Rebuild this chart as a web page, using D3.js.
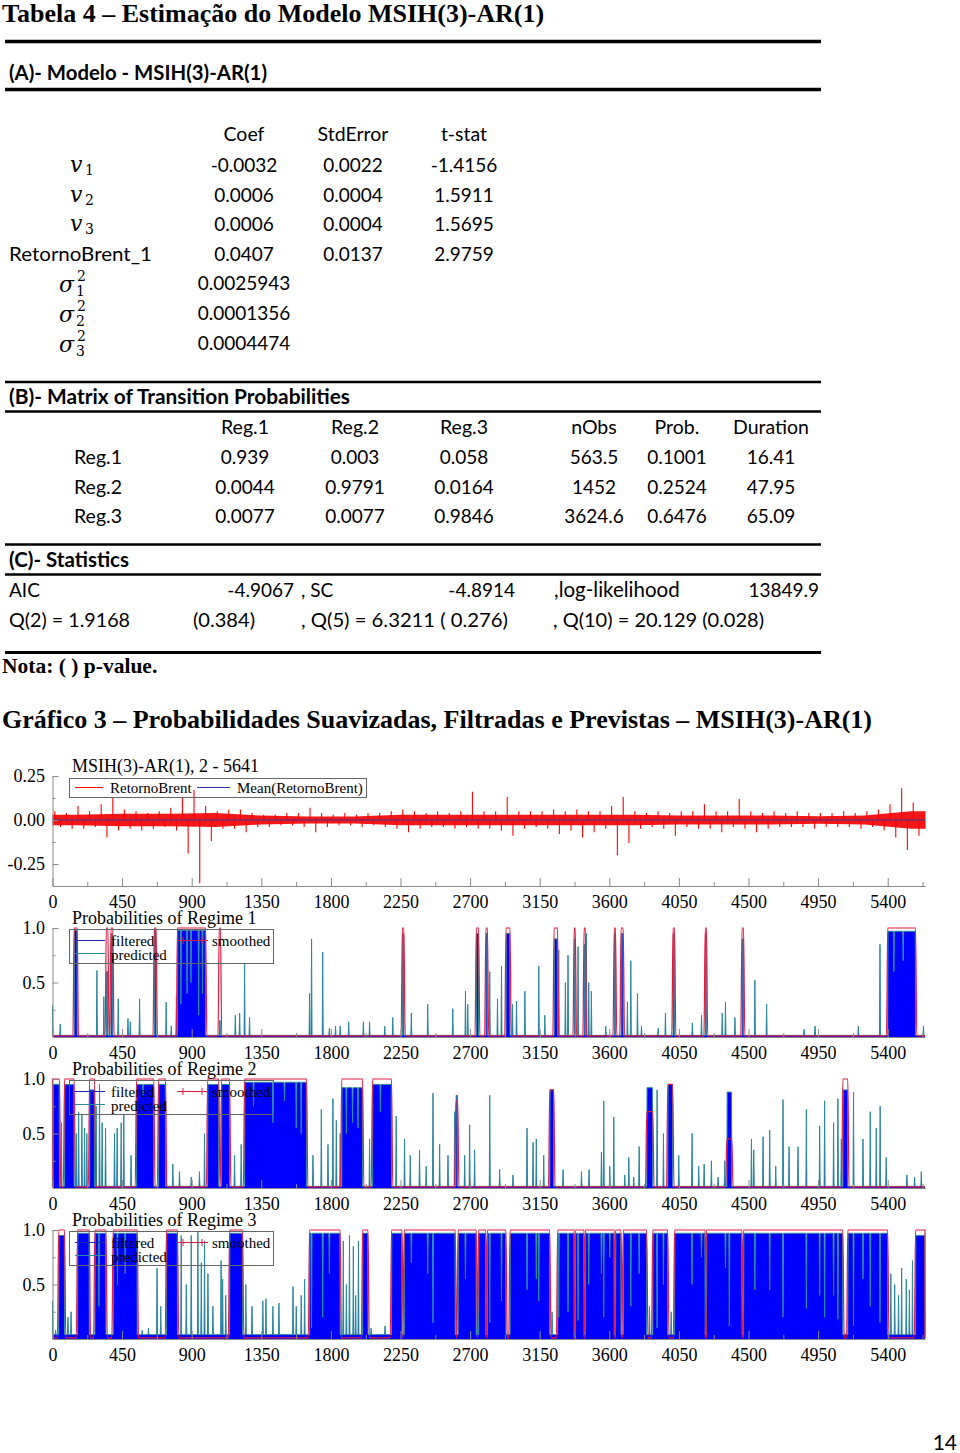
<!DOCTYPE html>
<html><head><meta charset="utf-8">
<script src="https://d3js.org/d3.v7.min.js"></script>
<style>html,body{margin:0;padding:0;background:#fff}svg{display:block}</style>
</head><body>
<svg id="page" width="960" height="1453"></svg>
<script>
// ---------------- Table data ----------------
const tableTitle = "Tabela 4 – Estimação do Modelo MSIH(3)-AR(1)";
const sectionA = "(A)- Modelo - MSIH(3)-AR(1)";
const coefHeaders = ["Coef", "StdError", "t-stat"];
const paramLabels = ["v1", "v2", "v3", "RetornoBrent_1", "σ1²", "σ2²", "σ3²"];
const coefValues = ["-0.0032", "0.0006", "0.0006", "0.0407", "0.0025943", "0.0001356", "0.0004474"];
const stdErrValues = ["0.0022", "0.0004", "0.0004", "0.0137"];
const tStatValues = ["-1.4156", "1.5911", "1.5695", "2.9759"];
const sectionB = "(B)- Matrix of Transition Probabilities";
const transHeaders = ["Reg.1", "Reg.2", "Reg.3", "nObs", "Prob.", "Duration"];
const regimeNames = ["Reg.1", "Reg.2", "Reg.3"];
const transValues = [
  ["0.939", "0.003", "0.058", "563.5", "0.1001", "16.41"],
  ["0.0044", "0.9791", "0.0164", "1452", "0.2524", "47.95"],
  ["0.0077", "0.0077", "0.9846", "3624.6", "0.6476", "65.09"]
];
const sectionC = "(C)- Statistics";
const statsLine1 = ["AIC", "-4.9067", ", SC", "-4.8914", ",log-likelihood", "13849.9"];
const statsLine2 = ["Q(2) = 1.9168", "(0.384)", ", Q(5) = 6.3211 ( 0.276)", ", Q(10) = 20.129 (0.028)"];
const noteText = "Nota: ( ) p-value.";
const graphTitle = "Gráfico 3 – Probabilidades Suavizadas, Filtradas e Previstas – MSIH(3)-AR(1)";
const pageNumber = "14";

// ---------------- Chart data ----------------
const nObs = 5641;
const xTicks = [0, 450, 900, 1350, 1800, 2250, 2700, 3150, 3600, 4050, 4500, 4950, 5400];
const xMinorTicks = [225, 675, 1125, 1575, 2025, 2475, 2925, 3375, 3825, 4275, 4725, 5175, 5625];
const retTicks = [-0.25, 0, 0.25];
const retTickLabels = ["-0.25", "0.00", "0.25"];
const retMinorTicks = [-0.125, 0.125];
const probTicks = [0.5, 1.0];
const probTickLabels = ["0.5", "1.0"];
const probMinorTicks = [0.25, 0.75];
const retTitle = "MSIH(3)-AR(1), 2 - 5641";
const retLegend = ["RetornoBrent", "Mean(RetornoBrent)"];
const probLegend = ["filtered", "smoothed", "predicted"];
const probTitles = ["Probabilities of Regime 1", "Probabilities of Regime 2", "Probabilities of Regime 3"];

// Return series: read per 75-observation bin (max and min of RetornoBrent)
const retBinWidth = 75;
const retHigh = [.05,.04,.08,.05,.09,.13,.06,.05,.04,.05, .07,.13,.17,.08,.05,.06,.06,.04,.03,.03,
  .04,.04,.07,.04,.03,.04,.03,.04,.04,.05, .06,.05,.04,.05,.04,.05,.16,.05,.05,.13,
  .05,.05,.05,.06,.05,.06,.05,.05,.08,.13, .05,.04,.05,.04,.05,.05,.09,.05,.05,.12,
  .05,.04,.05,.04,.05,.04,.04,.04,.05,.04, .05,.06,.09,.18,.10,.05];
const retLow = [-.04,-.05,-.05,-.04,-.10,-.06,-.05,-.06,-.05,-.04, -.06,-.19,-.36,-.12,-.05,-.05,-.07,-.04,-.04,-.03,
  -.03,-.04,-.07,-.04,-.03,-.03,-.04,-.03,-.04,-.05, -.07,-.05,-.04,-.04,-.05,-.04,-.05,-.05,-.06,-.09,
  -.05,-.04,-.05,-.08,-.06,-.10,-.07,-.05,-.20,-.13, -.05,-.04,-.05,-.09,-.04,-.05,-.05,-.07,-.04,-.05,
  -.07,-.05,-.04,-.04,-.04,-.05,-.04,-.04,-.04,-.05, -.04,-.06,-.10,-.17,-.09,-.05];
// typical (dense) amplitude per 300-observation segment
const retCoreWidth = 300;
const retCore = [.03,.035,.035,.04,.025,.02,.02,.03,.03,.03,.03,.03,.03,.025,.025,.025,.022,.025,.05];
const retMean = 0.0003;

// Regime probabilities. Blocks: [start, end, filtered level, smoothed level]
// Dips inside blocks: [t, filtered value]; spikes outside blocks: [t, filtered value]
const reg1Blocks = [[140,160,.98,1],[348,358,.6,1],[378,390,.95,1],[658,670,.98,1],[808,990,.98,1],[1078,1086,.15,1],
  [2262,2272,.95,1],[2740,2755,.95,1],[2802,2812,.95,1],[2932,2958,.95,1],[3243,3265,.9,1],[3373,3380,.9,1],
  [3437,3445,.85,1],[3632,3640,.95,1],[3676,3690,.95,1],[4012,4022,.95,1],[4220,4228,.95,1],[4458,4468,.9,1],[5400,5580,.97,1]];
const reg1Dips = [[830,.3],[870,.4],[895,.5],[945,.2],[970,.4],[5440,.6],[5500,.7]];
const reg1Spikes = [[0,.29],[50,.12],[287,.61],[332,.37],[425,.35],[488,.17],[503,.14],[563,.35],[735,.32],[768,.1],[801,.38],
  [1182,.2],[1210,.22],[1242,.68],[1274,.18],[1662,.4],[1675,.9],[1747,.78],[1790,.08],[1830,.1],[1860,.1],[1915,.14],
  [2010,.14],[2050,.14],[2148,.1],[2200,.18],[2320,.22],[2426,.3],[2588,.26],[2670,.42],[2685,.3],
  [2827,.6],[2877,.35],[2903,.65],[2974,.3],[3000,.33],[3054,.42],[3144,.65],[3183,.2],[3273,.8],[3316,.5],[3333,.75],
  [3398,.83],[3452,.95],[3467,.5],[3484,.42],[3577,.1],[3717,.32],[3739,.7],[3782,.4],[3808,.1],[3916,.08],[3963,.22],
  [4137,.13],[4196,.2],[4330,.22],[4351,.32],[4412,.18],[4541,.52],[4617,.3],[4859,.07],[4930,.1],[5210,.1],[5350,.85],[5631,.1]];

const reg2Blocks = [[0,45,.95,1],[78,140,.95,1],[240,272,.9,1],[543,655,.95,1],[686,731,.95,1],[1003,1075,.95,1],
  [1093,1145,.95,1],[1242,1643,.97,1],[1870,2005,.92,1],[2069,2192,.95,1],[2608,2620,.85,.8],[3215,3241,.9,.9],
  [3842,3881,.92,.7],[3978,4010,.95,.95],[4360,4392,.88,.45],[5110,5142,.9,1]];
const reg2Dips = [[585,.85],[1300,.75],[1425,.6],[1500,.8],[1576,.55],[1608,.5],[1900,.5],[1940,.6],[1975,.55],[2120,.7]];
const reg2Spikes = [[58,.6],[154,.5],[169,.7],[190,.68],[207,.55],[222,.5],[282,.75],[304,.95],[321,.6],[343,.55],
  [401,.5],[418,.55],[444,.6],[461,.68],[508,.3],[735,.2],[778,.22],[821,.15],[897,.1],[950,.15],[983,.5],
  [1177,.3],[1220,.4],[1684,.3],[1738,.72],[1781,.4],[1813,.82],[1835,.62],[1860,.5],[2050,.45],[2222,.66],
  [2276,.45],[2313,.3],[2373,.35],[2416,.2],[2460,.87],[2503,.4],[2557,.3],[2600,.7],[2665,.3],[2697,.58],[2729,.35],
  [2827,.85],[2891,.17],[2977,.12],[3068,.55],[3107,.42],[3128,.45],[3176,.3],[3301,.17],[3420,.15],[3469,.17],
  [3549,.33],[3564,.8],[3603,.2],[3629,.65],[3700,.12],[3726,.28],[3758,.1],[3793,.38],[3909,.9],[3950,.5],
  [4049,.3],[4135,.5],[4178,.2],[4213,.22],[4260,.25],[4303,.1],[4346,.25],[4519,.45],[4534,.35],[4594,.47],
  [4637,.53],[4676,.2],[4723,.81],[4762,.38],[4820,.38],[4874,.72],[4960,.57],[4992,.8],[5050,.6],[5078,.82],
  [5100,.45],[5179,.88],[5240,.45],[5287,.7],[5326,.55],[5351,.75],[5390,.28],[5524,.12],[5574,.1],[5617,.15]];

const reg3Blocks = [[40,78,.95,1],[162,238,.97,1],[274,346,.97,1],[392,548,.97,1],[737,808,.97,1],[1145,1229,.97,1],
  [1662,1860,.97,1],[2005,2040,.97,1],[2192,2260,.97,1],[2274,2604,.97,1],[2622,2740,.97,1],[2755,2802,.97,1],
  [2812,2932,.97,1],[2958,3215,.97,1],[3266,3373,.97,1],[3380,3437,.97,1],[3445,3632,.97,1],[3640,3676,.97,1],
  [3690,3842,.97,1],[3881,3978,.97,1],[4022,4220,.97,1],[4228,4458,.97,1],[4468,5110,.97,1],[5142,5400,.97,1],[5580,5641,.95,1]];
const reg3Dips = [[300,.3],[420,.5],[470,.6],[1675,.1],[1747,.2],[1790,.6],[2320,.7],[2426,.6],[2460,.15],[2670,.55],[2827,.15],
  [2903,.35],[3068,.45],[3128,.55],[3144,.35],[3273,.2],[3333,.25],[3398,.17],[3467,.5],[3549,.6],[3564,.2],[3603,.75],
  [3739,.3],[3793,.6],[3909,.1],[3950,.5],[4135,.5],[4196,.75],[4351,.65],[4376,.12],[4541,.45],[4637,.45],[4723,.2],
  [4874,.28],[4960,.4],[4992,.2],[5050,.4],[5078,.18],[5179,.12],[5240,.55],[5287,.3],[5350,.15]];
const reg3Spikes = [[0,.35],[20,.08],[100,.2],[120,.25],[580,.08],[620,.1],[676,.65],[700,.3],[832,.95],[865,.5],
  [897,.95],[940,.98],[962,.7],[983,.9],[1005,.6],[1037,.3],[1090,.72],[1100,.55],[1120,.4],[1250,.5],[1290,.3],
  [1360,.35],[1380,.37],[1425,.3],[1464,.33],[1555,.48],[1576,.3],[1608,.4],[1630,.55],[1880,.9],[1900,.5],
  [1920,.95],[1945,.85],[1960,.4],[1978,.9],[2060,.1],[2150,.12],[3230,.25],[3860,.3],[4000,.25],[5125,.05],
  [5420,.6],[5445,.5],[5470,.4],[5490,.65],[5520,.55],[5540,.45],[5560,.72]];
const regBase = [0.015, 0.015, 0.04];

// ---------------- Drawing ----------------
const serif = "'Liberation Serif','Times New Roman',serif";
const sans = "Lato,'Open Sans',sans-serif";
const svg = d3.select("#page");

function txt(x, y, s, opts = {}) {
  const t = svg.append("text").attr("x", x).attr("y", y)
    .attr("font-family", opts.family || sans).attr("font-size", opts.size || 19)
    .attr("font-weight", opts.weight || "normal").attr("font-style", opts.style || "normal")
    .attr("text-anchor", opts.anchor || "start").attr("fill", "#000").text(s);
  if (opts.len) t.attr("textLength", opts.len).attr("lengthAdjust", "spacingAndGlyphs");
  return t;
}
function hline(y, w) {
  svg.append("rect").attr("x", 5).attr("y", y - w / 2).attr("width", 816).attr("height", w).attr("fill", "#000");
}

// Title & section A
txt(2, 22, tableTitle, {family: serif, size: 26, weight: "bold"});
hline(41.5, 3.5);
txt(9, 80, sectionA, {weight: "bold", size: 20, len: 258});
hline(89.5, 3.5);
const colA = [244, 353, 464];
coefHeaders.forEach((h, i) => txt(colA[i], 141, h, {anchor: "middle", size: 19.5}));
const rowA = d3.scaleLinear().domain([0, 6]).range([165, 342.5]);
paramLabels.forEach((lab, i) => {
  const c = rowA(i);
  if (lab[0] === "v") {
    txt(70, c + 7, "v", {family: "'DejaVu Serif',serif", style: "italic", size: 22});
    txt(85, c + 10, lab[1], {family: "'DejaVu Serif',serif", size: 14});
  } else if (lab[0] === "σ") {
    txt(59, c + 9, "σ", {family: "'DejaVu Serif',serif", style: "italic", size: 22});
    txt(77, c - 2, "2", {family: "'DejaVu Serif',serif", size: 14});
    txt(76, c + 13, lab[1], {family: "'DejaVu Serif',serif", size: 14});
  } else {
    txt(9, c + 7, lab, {len: 143});
  }
  txt(colA[0], c + 7, coefValues[i], {anchor: "middle"});
  if (i < stdErrValues.length) {
    txt(colA[1], c + 7, stdErrValues[i], {anchor: "middle"});
    txt(colA[2], c + 7, tStatValues[i], {anchor: "middle"});
  }
});

// Section B
hline(382, 2.5);
txt(9, 404, sectionB, {weight: "bold", size: 20, len: 341});
hline(411.5, 2.5);
const colB = [245, 355, 464, 594, 677, 771];
transHeaders.forEach((h, i) => txt(colB[i], 434, h, {anchor: "middle", size: 19.5}));
regimeNames.forEach((r, j) => {
  const y = 464 + j * 29.5;
  txt(98, y, r, {anchor: "middle", size: 19.5});
  transValues[j].forEach((v, i) => txt(colB[i], y, v, {anchor: "middle"}));
});

// Section C
hline(544.5, 2.5);
txt(9, 567, sectionC, {weight: "bold", size: 20, len: 120});
hline(574.5, 2.5);
const s1pos = [[9, "start"], [294, "end"], [301, "start"], [515, "end"], [554, "start"], [819, "end"]];
statsLine1.forEach((s, i) => txt(s1pos[i][0], 597, s, {anchor: s1pos[i][1], size: i === 4 ? 20.5 : 19}));
const s2pos = [9, 193, 301, 553];
const s2len = [121, 62, 207, 211];
statsLine2.forEach((s, i) => txt(s2pos[i], 627, s, {len: s2len[i]}));
hline(652.5, 3);
txt(2, 673, noteText, {family: serif, size: 21.5, weight: "bold"});
txt(2, 728, graphTitle, {family: serif, size: 26, weight: "bold"});
txt(957, 1450, pageNumber, {size: 21, anchor: "end"});

// ---------------- Charts ----------------
const x = d3.scaleLinear().domain([0, nObs]).range([52.5, 925]);
const axisColor = "#8a8a8a";

function styleAxis(g) {
  g.attr("font-family", serif).attr("font-size", 18);
  g.selectAll(".domain").attr("stroke", axisColor);
  g.selectAll(".tick line").attr("stroke", axisColor);
  g.selectAll("text").attr("fill", "#000");
}
function drawAxes(y, bottom, yMajor, yLabels, yMinor) {
  const gx = svg.append("g").attr("transform", `translate(0,${bottom})`)
    .call(d3.axisBottom(x).tickValues(xTicks).tickFormat(d => String(d)).tickSize(-8).tickSizeOuter(0).tickPadding(9));
  styleAxis(gx);
  const gxm = svg.append("g").attr("transform", `translate(0,${bottom})`)
    .call(d3.axisBottom(x).tickValues(xMinorTicks).tickFormat("").tickSize(-4).tickSizeOuter(0));
  gxm.select(".domain").remove(); styleAxis(gxm);
  const gy = svg.append("g").attr("transform", `translate(${x(0)},0)`)
    .call(d3.axisLeft(y).tickValues(yMajor).tickFormat((d, i) => yLabels[i]).tickSize(-6).tickSizeOuter(0).tickPadding(7.5));
  styleAxis(gy);
  const gym = svg.append("g").attr("transform", `translate(${x(0)},0)`)
    .call(d3.axisLeft(y).tickValues(yMinor).tickFormat("").tickSize(-3).tickSizeOuter(0));
  gym.select(".domain").remove(); styleAxis(gym);
}

// Panel 1: returns
{
  const y = d3.scaleLinear().domain([-0.375, 0.25]).range([886, 776]);
  const core = retCore.map((c, k) => [k * retCoreWidth + retCoreWidth / 2, c]);
  core.unshift([0, retCore[0]]); core.push([nObs, retCore[retCore.length - 1]]);
  svg.append("path").datum(core)
    .attr("d", d3.area().x(d => x(d[0])).y0(d => y(-d[1])).y1(d => y(d[1])))
    .attr("fill", "#f01818");
  const spikes = [];
  retHigh.forEach((h, i) => {
    const t0 = i * retBinWidth;
    spikes.push([Math.min(t0 + 15, nObs), h]);
    spikes.push([Math.min(t0 + 52, nObs), retLow[i]]);
  });
  svg.append("g").selectAll("line").data(spikes).join("line")
    .attr("x1", d => x(d[0])).attr("x2", d => x(d[0]))
    .attr("y1", y(0)).attr("y2", d => y(d[1]))
    .attr("stroke", "#ff0000").attr("stroke-width", 1.1);
  svg.append("line").attr("x1", x(0)).attr("x2", x(nObs)).attr("y1", y(retMean)).attr("y2", y(retMean))
    .attr("stroke", "#4a2a9a").attr("stroke-width", 1);
  drawAxes(y, 886, retTicks, retTickLabels, retMinorTicks);
  txt(72, 772, retTitle, {family: serif, size: 18});
  svg.append("rect").attr("x", 69.5).attr("y", 778.5).attr("width", 297).attr("height", 19)
    .attr("fill", "none").attr("stroke", "#666");
  svg.append("line").attr("x1", 75).attr("x2", 103).attr("y1", 787.5).attr("y2", 787.5).attr("stroke", "#ff0000");
  txt(110, 793, retLegend[0], {family: serif, size: 15});
  svg.append("line").attr("x1", 197).attr("x2", 230).attr("y1", 787.5).attr("y2", 787.5).attr("stroke", "#3030a0");
  txt(237, 793, retLegend[1], {family: serif, size: 15});
}

// Regime panels
function filteredPoints(base, blocks, dips, spikes) {
  const ev = [];
  blocks.forEach(b => ev.push({t: b[0], b}));
  spikes.forEach(s => ev.push({t: s[0], s}));
  ev.sort((a, b) => a.t - b.t);
  const pts = [[0, base]];
  ev.forEach(e => {
    if (e.s) {
      const [t, p] = e.s;
      pts.push([Math.max(0, t - 3), base], [t, p], [Math.min(nObs, t + 3), base]);
    } else {
      const [s0, s1, L] = e.b;
      pts.push([s0, base], [s0 + 2, L]);
      dips.filter(d => d[0] > s0 && d[0] < s1).sort((a, b) => a[0] - b[0])
        .forEach(d => pts.push([d[0] - 3, L], [d[0], d[1]], [d[0] + 3, L]));
      pts.push([s1 - 2, L], [s1, base]);
    }
  });
  pts.push([nObs, base]);
  return pts;
}
function smoothedPoints(base, blocks) {
  const pts = [[0, base]];
  blocks.slice().sort((a, b) => a[0] - b[0]).forEach(b => {
    pts.push([Math.max(0, b[0] - 8), base], [b[0], b[3]], [b[1], b[3]], [Math.min(nObs, b[1] + 8), base]);
  });
  pts.push([nObs, base]);
  return pts;
}
const regPanels = [
  {top: 928, bottom: 1037, blocks: reg1Blocks, dips: reg1Dips, spikes: reg1Spikes},
  {top: 1079, bottom: 1188, blocks: reg2Blocks, dips: reg2Dips, spikes: reg2Spikes},
  {top: 1230, bottom: 1339, blocks: reg3Blocks, dips: reg3Dips, spikes: reg3Spikes}
];
const colFilt = "#0000ff", colPred = "#2a8a9c", colSmooth = "#e01a40";
regPanels.forEach((p, k) => {
  const y = d3.scaleLinear().domain([0, 1]).range([p.bottom, p.top]);
  const base = regBase[k];
  const fp = filteredPoints(base, p.blocks, p.dips, p.spikes);
  svg.append("path").datum(fp)
    .attr("d", d3.area().x(d => x(d[0])).y0(y(0)).y1(d => y(d[1])))
    .attr("fill", colFilt);
  svg.append("path").datum(fp)
    .attr("d", d3.line().x(d => x(d[0])).y(d => y(d[1])))
    .attr("fill", "none").attr("stroke", colPred).attr("stroke-width", 1);
  svg.append("path").datum(smoothedPoints(0.01, p.blocks))
    .attr("d", d3.line().curve(d3.curveMonotoneX).x(d => x(d[0])).y(d => y(d[1])))
    .attr("fill", "none").attr("stroke", colSmooth).attr("stroke-width", 1.2);
  drawAxes(y, p.bottom, probTicks, probTickLabels, probMinorTicks);
  txt(72, p.top - 4, probTitles[k], {family: serif, size: 18});
  const ly = p.top + 1;
  svg.append("rect").attr("x", 69.5).attr("y", ly + 0.5).attr("width", 204).attr("height", 34)
    .attr("fill", "none").attr("stroke", "#666");
  svg.append("line").attr("x1", 75).attr("x2", 105).attr("y1", ly + 11.5).attr("y2", ly + 11.5).attr("stroke", "#2020c0");
  txt(111, ly + 17, probLegend[0], {family: serif, size: 15});
  svg.append("line").attr("x1", 177).attr("x2", 208).attr("y1", ly + 11.5).attr("y2", ly + 11.5).attr("stroke", colSmooth);
  [183, 202].forEach(mx => svg.append("line").attr("x1", mx).attr("x2", mx).attr("y1", ly + 8).attr("y2", ly + 15).attr("stroke", colSmooth));
  txt(212, ly + 17, probLegend[1], {family: serif, size: 15});
  svg.append("line").attr("x1", 75).attr("x2", 105).attr("y1", ly + 24.5).attr("y2", ly + 24.5).attr("stroke", colPred);
  txt(111, ly + 31, probLegend[2], {family: serif, size: 15});
});
</script>
</body></html>
